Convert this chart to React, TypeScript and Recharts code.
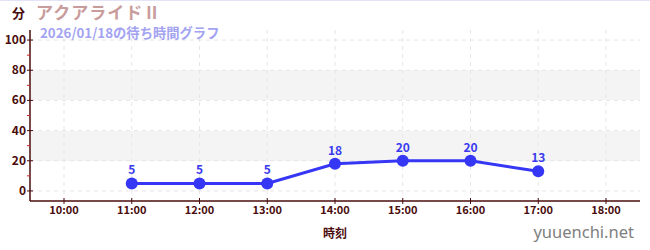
import React from "react";
import {
  LineChart,
  Line,
  XAxis,
  YAxis,
  CartesianGrid,
  LabelList,
} from "recharts";

// hourly wait times (minutes); null where there is no reading
const hours = ["10:00", "11:00", "12:00", "13:00", "14:00", "15:00", "16:00", "17:00", "18:00"];
const waits: (number | null)[] = [null, 5, 5, 5, 18, 20, 20, 13, null];
const yTicks = [0, 10, 20, 30, 40, 50, 60, 70, 80, 90, 100];
const gridValues = [0, 20, 40, 60, 80, 100];

const data = hours.map((h, i) => ({ hour: h, wait: waits[i] }));

const AXIS = "#4a0c0c";
const LINE = "#3636f5";
const FONT = "'Noto Sans CJK JP', 'Noto Sans', sans-serif";

// stripes go top to bottom: above 100, 100-80, 80-60, 60-40, 40-20, 20-0, below 0
const stripeFill = ["none", "none", "#f4f4f4", "none", "#f4f4f4", "none", "none"];

function YTick({ x, y, payload }: any) {
  const v = payload.value as number;
  const ax = x + 5; // axis line position
  if (v % 20 !== 0) {
    return <line x1={ax - 3} x2={ax} y1={y} y2={y} stroke="#d42020" strokeWidth={1} />;
  }
  return (
    <g>
      <line x1={ax - 3} x2={ax + 3} y1={y} y2={y} stroke={AXIS} strokeWidth={1} />
      <text
        x={ax - 4}
        y={y}
        dy={4}
        textAnchor="end"
        fill={AXIS}
        fontSize={12}
        fontWeight={700}
        fontFamily={FONT}
      >
        {v}
      </text>
    </g>
  );
}

function XTick({ x, y, payload }: any) {
  const ay = y - 5; // axis line position
  return (
    <g>
      <line x1={x} x2={x} y1={ay - 3} y2={ay + 3} stroke={AXIS} strokeWidth={1} />
      <text
        x={x}
        y={ay + 13}
        textAnchor="middle"
        fill={AXIS}
        fontSize={11}
        fontWeight={700}
        fontFamily={FONT}
      >
        {payload.value}
      </text>
    </g>
  );
}

export default function App() {
  return (
    <div
      style={{
        position: "absolute",
        left: 0,
        top: 0,
        width: 650,
        height: 250,
        background: "#fff",
        fontFamily: FONT,
        borderTop: "1px solid #e4e4f8",
        boxSizing: "border-box",
      }}
    >
      <LineChart
        width={650}
        height={249}
        data={data}
        margin={{ top: 29, right: 10, left: 0, bottom: 0 }}
      >
        <CartesianGrid
          stroke="#e6e6e6"
          strokeDasharray="4 4"
          horizontalValues={gridValues}
          verticalValues={hours}
          horizontalFill={stripeFill}
          fillOpacity={1}
        />
        <XAxis
          dataKey="hour"
          height={49}
          padding={{ left: 34, right: 34 }}
          axisLine={{ stroke: AXIS, strokeWidth: 1.5 }}
          tickLine={false}
          tickSize={3}
          tickMargin={2}
          interval={0}
          tick={<XTick />}
          label={{
            value: "時刻",
            position: "insideBottom",
            offset: 12,
            fill: AXIS,
            fontSize: 12,
            fontWeight: 700,
            fontFamily: FONT,
          }}
        />
        <YAxis
          width={30}
          domain={[-20 / 3, 320 / 3]}
          ticks={yTicks}
          interval={0}
          allowDataOverflow
          axisLine={{ stroke: AXIS, strokeWidth: 1.5 }}
          tickLine={false}
          tickSize={3}
          tickMargin={2}
          tick={<YTick />}
        />
        <Line
          type="linear"
          dataKey="wait"
          stroke={LINE}
          strokeWidth={3}
          dot={{ r: 6, fill: LINE, stroke: LINE, strokeWidth: 0 }}
          isAnimationActive={false}
        >
          <LabelList
            dataKey="wait"
            position="top"
            offset={9}
            fill="#3a3aee"
            fontSize={12}
            fontWeight={700}
            fontFamily={FONT}
          />
        </Line>
      </LineChart>

      <div style={{ position: "absolute", left: 12, top: 4, fontSize: 13, fontWeight: 700, color: AXIS, lineHeight: "16px" }}>
        分
      </div>
      <div
        style={{
          position: "absolute",
          left: 36,
          top: 1,
          fontSize: 17,
          letterSpacing: 1,
          fontWeight: 700,
          color: "#c99c9c",
          lineHeight: "20px",
        }}
      >
        アクアライドⅡ
      </div>
      <div style={{ position: "absolute", left: 40, top: 25, fontSize: 13.3, fontWeight: 700, color: "#a3a3f2", lineHeight: 1 }}>
        2026/01/18の待ち時間グラフ
      </div>
      <div
        style={{
          position: "absolute",
          right: 16,
          top: 223,
          fontSize: 16.5,
          color: "#808080",
          lineHeight: 1,
          fontFamily: "'Noto Sans', sans-serif",
        }}
      >
        yuuenchi.net
      </div>
    </div>
  );
}
